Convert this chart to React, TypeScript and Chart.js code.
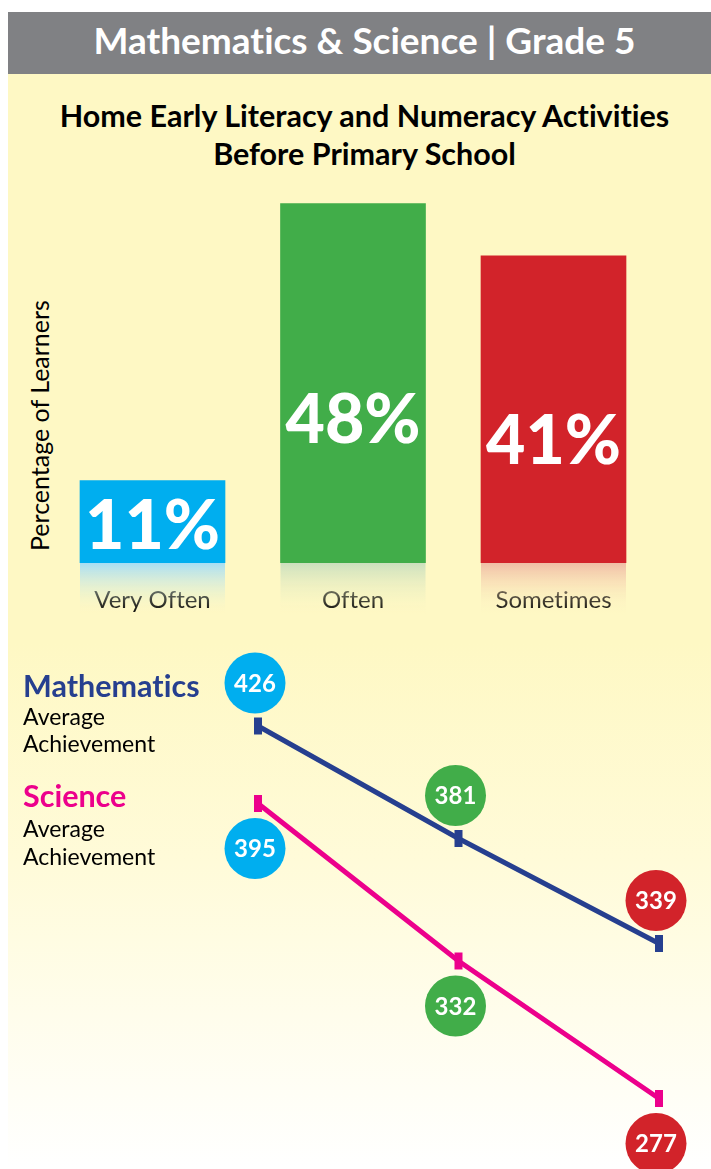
import React, { useEffect, useRef } from "react";
import { Chart, registerables } from "chart.js";

Chart.register(...registerables);

// ---- data ----
const categories = ["Very Often", "Often", "Sometimes"];
const percentages = [11, 48, 41];
const mathScores = [426, 381, 339];
const scienceScores = [395, 332, 277];
const seriesNames = ["Mathematics", "Science"];
const yAxisTitle = "Percentage of Learners";

// ---- styles ----
const FONT = "Lato, 'Open Sans', sans-serif";
const catColors = ["#00aeef", "#41ad49", "#d2232a"];
const boxColors = ["rgba(168,222,244,1)", "rgba(204,224,190,1)", "rgba(240,190,166,1)"];
const mathColor = "#263f8f";
const sciColor = "#ec008c";

export default function App() {
  const barRef = useRef<HTMLCanvasElement>(null);
  const lineRef = useRef<HTMLCanvasElement>(null);

  useEffect(() => {
    const barDeco = {
      id: "barDeco",
      beforeDatasetsDraw(chart: any) {
        const ctx = chart.ctx;
        const meta = chart.getDatasetMeta(0);
        meta.data.forEach((bar: any, i: number) => {
          const w = bar.width;
          const top = bar.base;
          const h = 52;
          const g = ctx.createLinearGradient(0, top, 0, top + h);
          g.addColorStop(0, boxColors[i]);
          g.addColorStop(1, "rgba(254,248,196,0)");
          ctx.save();
          ctx.fillStyle = g;
          ctx.fillRect(bar.x - w / 2, top, w, h);
          ctx.restore();
        });
      },
      afterDatasetsDraw(chart: any) {
        const ctx = chart.ctx;
        const meta = chart.getDatasetMeta(0);
        meta.data.forEach((bar: any, i: number) => {
          const h = bar.base - bar.y;
          const center = bar.base - h * (h > 150 ? 0.4 : 0.46);
          ctx.save();
          ctx.fillStyle = "#ffffff";
          ctx.font = `900 68px ${FONT}`;
          ctx.textAlign = "center";
          ctx.textBaseline = "alphabetic";
          ctx.fillText(`${percentages[i]}%`, bar.x, center + 24);
          ctx.restore();
        });
      },
    };

    const bubbleLabels = {
      id: "bubbleLabels",
      afterDatasetsDraw(chart: any) {
        const ctx = chart.ctx;
        chart.data.datasets.forEach((ds: any, di: number) => {
          const meta = chart.getDatasetMeta(di);
          const off = di === 0 ? -43 : 45;
          meta.data.forEach((pt: any, i: number) => {
            const x = pt.x - 3;
            const y = pt.y + off;
            ctx.save();
            ctx.beginPath();
            ctx.arc(x, y, 30.5, 0, Math.PI * 2);
            ctx.fillStyle = catColors[i];
            ctx.fill();
            ctx.fillStyle = "#ffffff";
            ctx.font = `bold 24px ${FONT}`;
            ctx.textAlign = "center";
            ctx.textBaseline = "alphabetic";
            ctx.fillText(String(ds.data[i]), x, y + 8.5);
            ctx.restore();
          });
        });
      },
    };

    const barChart = new Chart(barRef.current as HTMLCanvasElement, {
      type: "bar",
      data: {
        labels: categories,
        datasets: [
          {
            data: percentages,
            backgroundColor: catColors,
            barThickness: 145,
          },
        ],
      },
      options: {
        animation: false,
        responsive: false,
        devicePixelRatio: 1,
        layout: { autoPadding: false, padding: { left: 52.25, right: 57.25, top: 8.5, bottom: 25 } },
        plugins: { legend: { display: false }, tooltip: { enabled: false } },
        scales: {
          x: {
            grid: { display: false, drawTicks: false },
            border: { display: false },
            ticks: {
              padding: 23,
              color: "#000000",
              font: { family: FONT, size: 24 },
            },
            afterFit: (s: any) => {
              s.height = 52;
            },
          },
          y: {
            display: false,
            min: 0,
            max: 50,
          },
        },
      },
      plugins: [barDeco],
    });

    const lineChart = new Chart(lineRef.current as HTMLCanvasElement, {
      type: "line",
      data: {
        labels: categories,
        datasets: [
          {
            label: seriesNames[0],
            data: mathScores,
            borderColor: mathColor,
            borderWidth: 5,
            pointStyle: "line",
            pointRotation: 90,
            pointRadius: 8.5,
            pointBorderWidth: 8,
            pointBorderColor: mathColor,
            clip: false,
          },
          {
            label: seriesNames[1],
            data: scienceScores,
            borderColor: sciColor,
            borderWidth: 5,
            pointStyle: "line",
            pointRotation: 90,
            pointRadius: 8.5,
            pointBorderWidth: 8,
            pointBorderColor: sciColor,
            clip: false,
          },
        ],
      },
      options: {
        animation: false,
        responsive: false,
        devicePixelRatio: 1,
        layout: { autoPadding: false, padding: { left: 258, right: 52, top: 26, bottom: 3 } },
        plugins: { legend: { display: false }, tooltip: { enabled: false } },
        scales: {
          x: { display: false, offset: false },
          y: { display: false, min: 250, max: 450 },
        },
      },
      plugins: [bubbleLabels],
    });

    return () => {
      barChart.destroy();
      lineChart.destroy();
    };
  }, []);

  const abs = (o: React.CSSProperties): React.CSSProperties => ({ position: "absolute", ...o });

  return (
    <div
      style={abs({
        top: 0,
        left: 0,
        width: 711,
        height: 1169,
        background: "#ffffff",
        overflow: "hidden",
        fontFamily: FONT,
        fontVariantLigatures: "none",
      })}
    >
      <div
        style={abs({
          left: 8,
          top: 74,
          width: 703,
          height: 1095,
          background:
            "linear-gradient(to bottom, #fef8c4 0%, #fef8c4 52%, #fffbd9 72%, #ffffff 100%)",
        })}
      />
      <div
        style={abs({
          left: 8,
          top: 12,
          width: 703,
          height: 62,
          background: "#808184",
        })}
      />
      <div
        style={abs({
          left: 0,
          top: 12,
          width: 729,
          height: 56,
          lineHeight: "56px",
          textAlign: "center",
          color: "#ffffff",
          fontWeight: 700,
          fontSize: 37,
          whiteSpace: "nowrap",
        })}
      >
        Mathematics &amp; Science | Grade 5
      </div>
      <div
        style={abs({
          left: 0,
          top: 96,
          width: 729,
          textAlign: "center",
          color: "#000000",
          fontWeight: 700,
          fontSize: 30.5,
          lineHeight: "38px",
          whiteSpace: "nowrap",
        })}
      >
        Home Early Literacy and Numeracy Activities
        <br />
        Before Primary School
      </div>

      <div
        style={abs({
          left: 24,
          top: 551,
          fontSize: 25,
          lineHeight: "30px",
          color: "#000000",
          whiteSpace: "nowrap",
          transform: "rotate(-90deg)",
          transformOrigin: "left top",
        })}
      >
        {yAxisTitle}
      </div>

      <canvas ref={barRef} width={711} height={460} style={abs({ left: 0, top: 180 })} />
      <canvas ref={lineRef} width={711} height={529} style={abs({ left: 0, top: 640 })} />

      <div style={abs({ left: 23, top: 667, fontSize: 30.5, fontWeight: 700, color: mathColor, lineHeight: "36px", whiteSpace: "nowrap" })}>
        {seriesNames[0]}
      </div>
      <div style={abs({ left: 23, top: 703, fontSize: 23, color: "#000000", lineHeight: "27px", whiteSpace: "nowrap" })}>
        Average
        <br />
        Achievement
      </div>
      <div style={abs({ left: 23, top: 777, fontSize: 30.5, fontWeight: 700, color: sciColor, lineHeight: "36px", whiteSpace: "nowrap" })}>
        {seriesNames[1]}
      </div>
      <div style={abs({ left: 23, top: 814, fontSize: 23, color: "#000000", lineHeight: "28px", whiteSpace: "nowrap" })}>
        Average
        <br />
        Achievement
      </div>
    </div>
  );
}
